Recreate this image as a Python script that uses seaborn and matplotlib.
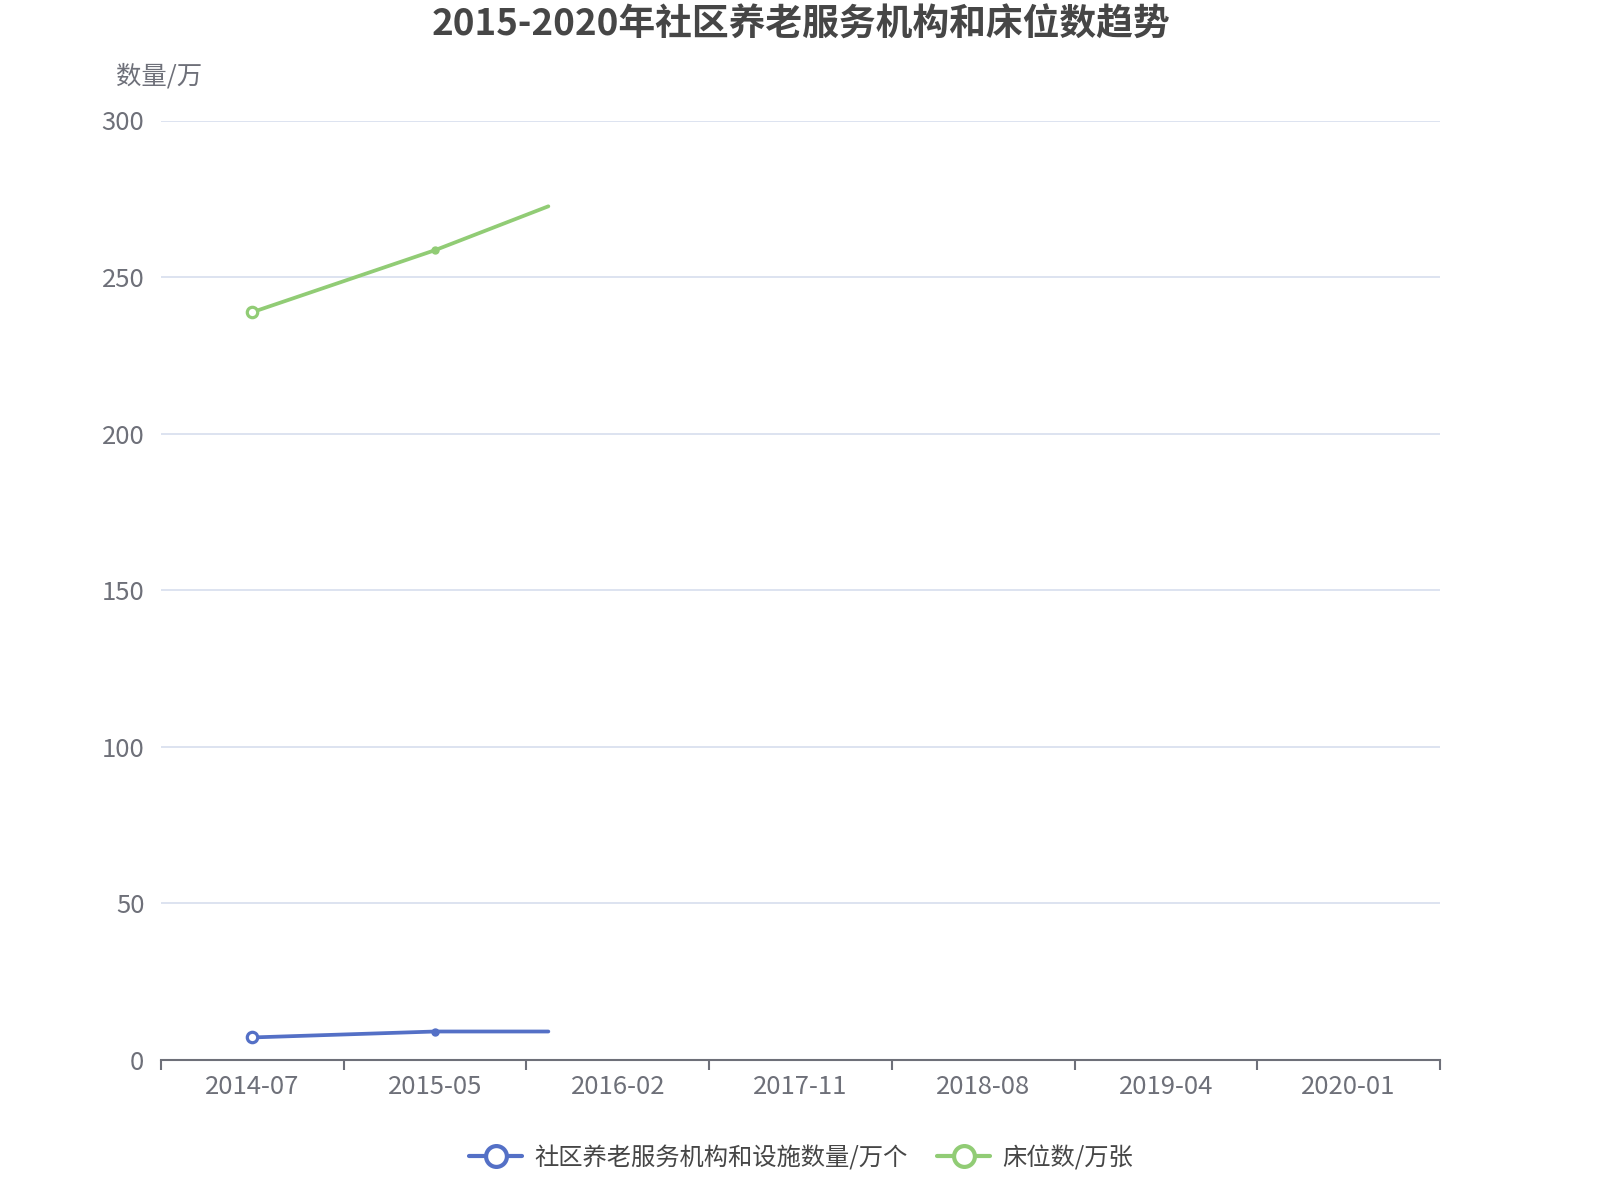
import matplotlib
matplotlib.use("Agg")
import matplotlib.pyplot as plt
import seaborn as sns
import pandas as pd
from matplotlib.lines import Line2D

# data
x_labels = ["2014-07", "2015-05", "2016-02", "2017-11", "2018-08", "2019-04", "2020-01"]
x_pos = [0, 1, 1.62]          # category positions of the three samples
institutions = [7.2, 9.1, 9.1]     # 社区养老服务机构和设施数量/万个
beds = [238.8, 258.6, 272.6]       # 床位数/万张
series_names = ["社区养老服务机构和设施数量/万个", "床位数/万张"]
colors = ["#5470c6", "#91cc75"]
y_ticks = [0, 50, 100, 150, 200, 250, 300]

df = pd.DataFrame({
    "x": x_pos * 2,
    "value": institutions + beds,
    "series": [series_names[0]] * 3 + [series_names[1]] * 3,
})

sns.set_theme(style="white")
plt.rcParams['font.family'] = ['Noto Sans CJK SC', 'DejaVu Sans']

W, H = 1600, 1200
fig = plt.figure(figsize=(16, 12), dpi=100)
ax = fig.add_axes([161 / W, 1 - 1060 / H, (1440 - 161) / W, (1060 - 120.5) / H])

sns.lineplot(data=df, x="x", y="value", hue="series", palette=colors,
             linewidth=2.7, legend=False, ax=ax, zorder=3)

# markers: first point hollow, second point small filled dot
for vals, c in zip([institutions, beds], colors):
    ax.plot(x_pos[0], vals[0], marker="o", markersize=7.5, markerfacecolor="white",
            markeredgecolor=c, markeredgewidth=2.3, zorder=4)
    ax.plot(x_pos[1], vals[1], marker="o", markersize=5, color=c, zorder=4)

ax.set_xlim(-0.5, len(x_labels) - 0.5)
ax.set_ylim(0, 300)
ax.set_yticks(y_ticks)
ax.set_xticks(range(len(x_labels)))
ax.set_xticklabels(x_labels)
ax.set_xticks([i - 0.5 for i in range(len(x_labels) + 1)], minor=True)
ax.tick_params(axis="x", which="major", length=0, pad=10, labelsize=18.5, labelcolor="#6E7079")
ax.tick_params(axis="x", which="minor", length=7, width=1.5, color="#6E7079", direction="out", bottom=True)
ax.tick_params(axis="y", length=0, pad=12, labelsize=18.5, labelcolor="#6E7079")
ax.set_xlabel("")
ax.set_ylabel("")

ax.grid(axis="y", color="#DDE3F0", linewidth=1.4)
ax.grid(axis="x", visible=False)
for s in ["top", "right", "left"]:
    ax.spines[s].set_visible(False)
ax.spines["bottom"].set_color("#6E7079")
ax.spines["bottom"].set_linewidth(1.5)

fig.text(801 / W, 1 - 25.5 / H, "2015-2020年社区养老服务机构和床位数趋势",
         ha="center", va="center", fontsize=26.5, fontweight="bold", color="#464646")
fig.text(159 / W, 1 - 76.5 / H, "数量/万", ha="center", va="center",
         fontsize=18.3, color="#6E7079")

handles = [Line2D([0], [0], color=c, linewidth=3, marker="o", markersize=15,
                  markerfacecolor="white", markeredgewidth=3) for c in colors]
fig.legend(handles, series_names, loc="center", bbox_to_anchor=(801 / W, 1 - 1158 / H),
           ncol=2, frameon=False, fontsize=17.5, labelcolor="#464646",
           handlelength=2.2, handletextpad=0.5, columnspacing=1.2)

fig.savefig("out.png", dpi=100)
